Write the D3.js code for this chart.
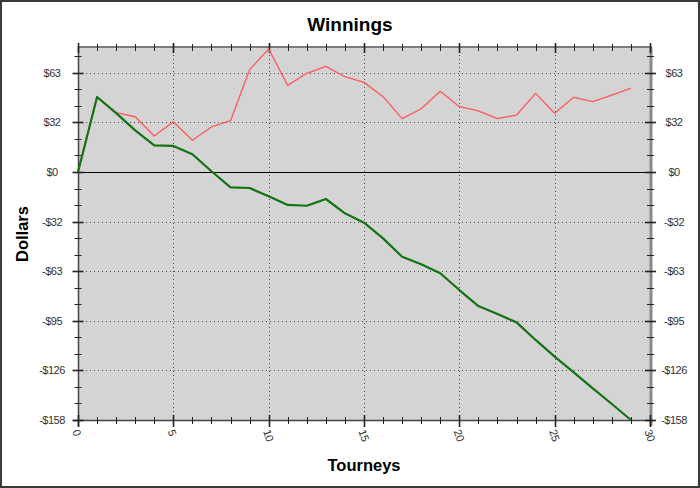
<!DOCTYPE html>
<html>
<head>
<meta charset="utf-8">
<script src="https://cdn.jsdelivr.net/npm/d3@7"></script>
<style>
  html, body { margin: 0; padding: 0; background: #fff; }
  svg { display: block; }
  text { font-family: "Liberation Sans", Arial, sans-serif; }
</style>
</head>
<body>
<div id="chart"></div>
<script>
// ---- data ----
const tourneys = [0,1,2,3,4,5,6,7,8,9,10,11,12,13,14,15,16,17,18,19,20,21,22,23,24,25,26,27,28,29];
const cumulative = [0, 47.8, 37.5, 26.5, 17, 16.6, 11.3, 0.5, -9.8, -10.2, -15.5, -21, -21.5, -17.2, -26.3,
  -32.3, -42.3, -54, -58.8, -64.5, -75.2, -85.4, -90.5, -95.8, -107, -117.6, -127.6, -137.8, -147.8, -158];
const secondary = [0, 47.8, 37.8, 35.2, 22.9, 32.0, 20.2, 28.7, 32.7, 65.2, 78.4, 55.2, 62.9, 67.3, 60.7,
  57.1, 48, 34, 40.3, 51.4, 41.6, 39, 34, 36.3, 50.1, 37.4, 47.6, 44.8, 49, 53.5];
const yTickValues = [-158, -126.4, -94.8, -63.2, -31.6, 0, 31.6, 63.2];
const yTickLabels = ["-$158", "-$126", "-$95", "-$63", "-$32", "$0", "$32", "$63"];
const xTickValues = [0, 5, 10, 15, 20, 25, 30];
const xTickLabels = ["0", "5", "10", "15", "20", "25", "30"];
const title = "Winnings";
const xTitle = "Tourneys";
const yTitle = "Dollars";

// ---- layout ----
const W = 700, H = 488;
const L = 78, R = 650, T = 47, B = 420;

const svg = d3.select("#chart").append("svg").attr("width", W).attr("height", H);

svg.append("rect").attr("x", 1).attr("y", 1).attr("width", W - 2).attr("height", H - 2)
  .attr("fill", "#fff").attr("stroke", "#3a3a3a").attr("stroke-width", 2);

const x = d3.scaleLinear().domain([0, 30]).range([L, R]);
const y = d3.scaleLinear().domain([-158, 79]).range([B, T + 1]);

// plot background with subtle noise
const defs = svg.append("defs");
const f = defs.append("filter").attr("id", "noise").attr("x", 0).attr("y", 0).attr("width", 1).attr("height", 1);
f.append("feTurbulence").attr("type", "fractalNoise").attr("baseFrequency", 0.9).attr("numOctaves", 1).attr("result", "t");
f.append("feColorMatrix").attr("in", "t").attr("type", "matrix")
  .attr("values", "0 0 0 0 0.55  0 0 0 0 0.55  0 0 0 0 0.58  0 0 0 0.18 0").attr("result", "n");
f.append("feComposite").attr("in", "n").attr("in2", "SourceGraphic").attr("operator", "in").attr("result", "nc");
f.append("feMerge").selectAll("feMergeNode").data(["SourceGraphic", "nc"]).enter()
  .append("feMergeNode").attr("in", d => d);

svg.append("rect").attr("x", L).attr("y", T).attr("width", R - L).attr("height", B - T)
  .attr("fill", "#d6d6d6").attr("filter", "url(#noise)");

// gridlines
const grid = svg.append("g").attr("stroke", "#4a4a4a").attr("stroke-width", 1).attr("stroke-dasharray", "1,3");
grid.selectAll("line.gx").data(xTickValues.filter(v => v > 0 && v < 30)).enter().append("line")
  .attr("x1", d => Math.round(x(d)) + 0.5).attr("x2", d => Math.round(x(d)) + 0.5)
  .attr("y1", T).attr("y2", B);
grid.selectAll("line.gy").data(yTickValues.filter(v => v !== 0 && v > -158)).enter().append("line")
  .attr("x1", L).attr("x2", R)
  .attr("y1", d => Math.round(y(d)) + 0.5).attr("y2", d => Math.round(y(d)) + 0.5);

// zero line
svg.append("line").attr("x1", L).attr("x2", R)
  .attr("y1", Math.round(y(0)) + 0.5).attr("y2", Math.round(y(0)) + 0.5)
  .attr("stroke", "#000").attr("stroke-width", 1);

// frame
svg.append("line").attr("x1", L).attr("x2", R + 2).attr("y1", T).attr("y2", T).attr("stroke", "#7a7a7a").attr("stroke-width", 2);
svg.append("line").attr("x1", R + 1).attr("x2", R + 1).attr("y1", T).attr("y2", B + 6).attr("stroke", "#8a8a8a").attr("stroke-width", 3);
svg.append("line").attr("x1", L + 0.5).attr("x2", L + 0.5).attr("y1", T).attr("y2", B + 6).attr("stroke", "#444").attr("stroke-width", 1.5);
svg.append("line").attr("x1", L - 5).attr("x2", R + 3).attr("y1", B + 0.5).attr("y2", B + 0.5).attr("stroke", "#444").attr("stroke-width", 1.5);

// ticks
const ticks = svg.append("g").attr("stroke", "#222");
const yMinor = d3.range(-158, 79.5, 31.6 / 3);
const xMinor = d3.range(0, 30.5, 1);
// y minor (left & right)
[L + 0.5, R + 1].forEach(ax => {
  ticks.append("g").selectAll("line").data(yMinor).enter().append("line")
    .attr("x1", ax - 4).attr("x2", ax + 3)
    .attr("y1", d => Math.round(y(d)) + 0.5).attr("y2", d => Math.round(y(d)) + 0.5)
    .attr("stroke-width", 1);
  ticks.append("g").selectAll("line").data(yTickValues).enter().append("line")
    .attr("x1", ax - 6).attr("x2", ax + 5)
    .attr("y1", d => Math.round(y(d)) + 0.5).attr("y2", d => Math.round(y(d)) + 0.5)
    .attr("stroke-width", 1.6);
});
// x minor (bottom & top)
ticks.append("g").selectAll("line").data(xMinor).enter().append("line")
  .attr("x1", d => Math.round(x(d)) + 0.5).attr("x2", d => Math.round(x(d)) + 0.5)
  .attr("y1", B - 3).attr("y2", B + 4).attr("stroke-width", 1);
ticks.append("g").selectAll("line").data(xTickValues).enter().append("line")
  .attr("x1", d => Math.round(x(d)) + 0.5).attr("x2", d => Math.round(x(d)) + 0.5)
  .attr("y1", B - 5).attr("y2", B + 7).attr("stroke-width", 1.6);
ticks.append("g").selectAll("line").data(xMinor).enter().append("line")
  .attr("x1", d => Math.round(x(d)) + 0.5).attr("x2", d => Math.round(x(d)) + 0.5)
  .attr("y1", T - 3).attr("y2", T + 4).attr("stroke-width", 1);
ticks.append("g").selectAll("line").data(xTickValues).enter().append("line")
  .attr("x1", d => Math.round(x(d)) + 0.5).attr("x2", d => Math.round(x(d)) + 0.5)
  .attr("y1", T - 4).attr("y2", T + 6).attr("stroke-width", 1.6);

// tick labels
const lab = svg.append("g").attr("font-size", 11).attr("fill", "#333").attr("letter-spacing", "-0.5");
[52, 674].forEach(cx => {
  lab.append("g").selectAll("text").data(yTickValues).enter().append("text")
    .attr("x", cx).attr("y", d => y(d)).attr("dy", "0.36em")
    .attr("text-anchor", "middle").text((d, i) => yTickLabels[i]);
});
lab.append("g").selectAll("text").data(xTickValues).enter().append("text")
  .attr("transform", d => `translate(${x(d) - 2},${B + 10}) rotate(70)`)
  .attr("dy", "0.36em").attr("text-anchor", "start")
  .text((d, i) => xTickLabels[i]);

// lines
const line = d3.line().x((d, i) => x(tourneys[i])).y(d => y(d));
svg.append("path").datum(secondary).attr("d", line)
  .attr("fill", "none").attr("stroke", "#ff5858").attr("stroke-width", 1.3).attr("stroke-linejoin", "round");
svg.append("path").datum(cumulative).attr("d", line)
  .attr("fill", "none").attr("stroke", "#137313").attr("stroke-width", 2.2).attr("stroke-linejoin", "round");

// titles
svg.append("text").attr("x", 350).attr("y", 31).attr("text-anchor", "middle")
  .attr("font-size", 19).attr("font-weight", "bold").attr("fill", "#000").text(title);
svg.append("text").attr("x", 364).attr("y", 471).attr("text-anchor", "middle")
  .attr("font-size", 16.5).attr("font-weight", "bold").attr("fill", "#000").text(xTitle);
svg.append("text").attr("transform", "translate(28,234) rotate(-90)").attr("text-anchor", "middle")
  .attr("font-size", 16.5).attr("font-weight", "bold").attr("fill", "#000").text(yTitle);
</script>
</body>
</html>
